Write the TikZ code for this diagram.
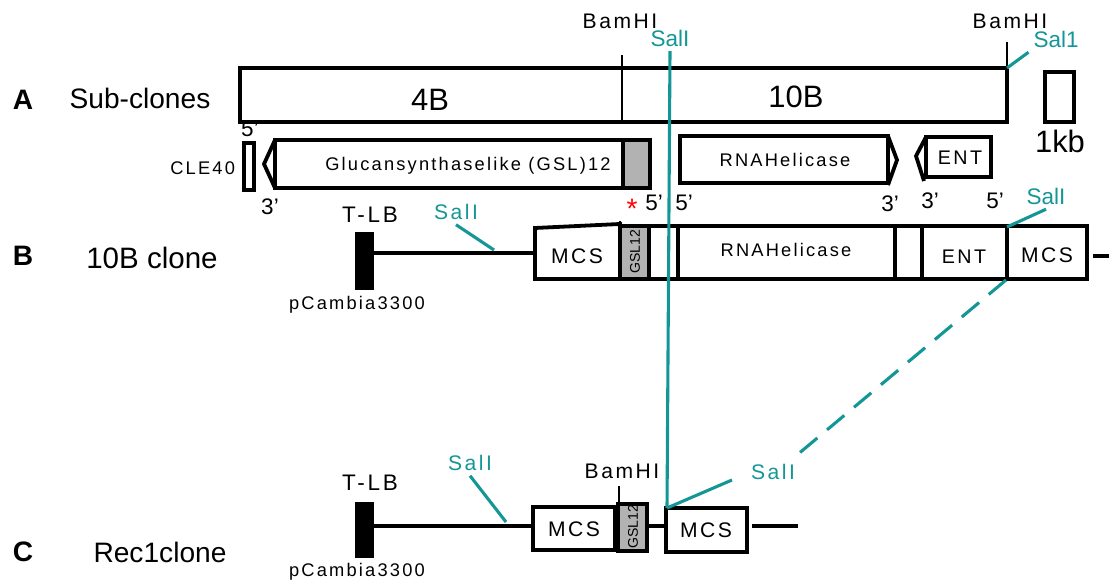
\documentclass[tikz,border=0pt]{standalone}
\usepackage{fontspec}
\setmainfont{Liberation Sans}
\newfontfamily\spcd[LetterSpace=12]{Liberation Sans}
\newcommand{\fsz}[1]{\fontsize{#1}{#1}\selectfont}
\definecolor{salteal}{RGB}{20, 150, 150}
\definecolor{gslgray}{RGB}{178, 178, 178}
\tikzset{
  seg/.style={draw, line width=2.7pt},
  cut/.style={line width=1pt},
  sal/.style={salteal, line width=2.2pt},
  sallbl/.style={salteal, font=\spcd\fsz{15}},
  lbl/.style={font=\spcd\fsz{13}},
  ends/.style={font=\fsz{16}},
}
\begin{document}
\begin{tikzpicture}[x=0.025cm, y=-0.025cm]
        \useasboundingbox (0,0) rectangle (1109,582);
        % row A: sub-clones
        \node[font=\fsz{20}\bfseries] (labA) at (23,100) {A};
        \node[font=\fsz{20}] (subcl) at (140,98) {Sub-clones};
        \draw[seg] (240,68) rectangle (1007,122);
        \draw[cut] (622,55) -- (622,122);
        \draw[cut] (1007,42) -- (1007,68);
        \node[font=\fsz{22}] (fourB) at (430,100) {4B};
        \node[font=\fsz{22}] (tenB) at (796,97) {10B};
        \node[font=\spcd\fsz{15}] (bamA) at (620,21) {BamHI};
        \node[font=\spcd\fsz{15}] (bamAr) at (1010,21) {BamHI};
        \node[salteal, font=\fsz{16}] (salA) at (670,38) {SalI};
        \node[salteal, font=\fsz{16}] (salAr) at (1056,39) {Sal1};
        \draw[sal] (1007,68) -- (salAr.south west);
        \draw[seg] (1045,72) rectangle (1074,122);
        \node[font=\fsz{22}] (kb) at (1060,141) {1kb};
        % genes
        \draw[seg] (244,143) rectangle (254,190);
        \node[lbl, anchor=east] (cle) at (240,168) {CLE40};
        \filldraw[seg, fill=gslgray] (623,140) rectangle (650,188);
        \draw[seg] (275,140) rectangle (623,188);
        \draw[seg] (275,140) -- (264,164) -- (275,188);
        \node[lbl] (gsl) at (468,166) {Glucansynthaselike (GSL)12};
        \draw[seg] (680,136) rectangle (888,183);
        \draw[seg] (888,136) -- (897,160) -- (888,185);
        \node[lbl] (rnaA) at (785,160) {RNAHelicase};
        \draw[seg] (926,137) rectangle (991,177);
        \draw[seg] (926,137) -- (916,156) -- (924,181);
        \node[font=\spcd\fsz{14}] (entA) at (960,158) {ENT};
        \node[ends] at (250,129) {5'};
        \node[ends] at (270,207) {3'};
        \node[red, font=\fsz{20}] at (632,209) {*};
        \node[ends] at (654,203) {5'};
        \node[ends] at (684,203) {5'};
        \node[ends] at (890,204) {3'};
        \node[ends] at (930,201) {3'};
        \node[ends] at (995,201) {5'};
        % row B: 10B clone
        \node[font=\fsz{20}\bfseries] (labB) at (23,256) {B};
        \node[font=\fsz{21}] (cloneB) at (152,258) {10B clone};
        \node[font=\spcd\fsz{16}] (tlbB) at (370,215) {T-LB};
        \fill (355,232) rectangle (374,290);
        \node[font=\spcd\fsz{13}] (pcB) at (357,305) {pCambia3300};
        \draw[line width=2.7pt] (374,253) -- (535,253);
        \node[sallbl] (salB) at (456,212) {SalI};
        \draw[sal] (salB.south) -- (494,250);
        \fill[gslgray] (620,226) rectangle (649,279);
        \draw[seg] (535,228) -- (620,224) -- (620,279) -- (535,279) -- cycle;
        \draw[seg] (620,226) rectangle (1087,279);
        \draw[cut] (620,221) -- (620,226);
        \foreach \xdiv in {649,678,895,922,1007}
          \draw[line width=2.7pt] (\xdiv,226) -- (\xdiv,279);
        \node[font=\spcd\fsz{15}] (mcsB) at (577,256) {MCS};
        \node[font=\fsz{10}, rotate=90] (gslB) at (635,252) {GSL12};
        \node[lbl] (rnaB) at (786,250) {RNAHelicase};
        \node[font=\spcd\fsz{14}] (entB) at (964,257) {ENT};
        \node[font=\spcd\fsz{15}] (mcsBr) at (1047,255) {MCS};
        \draw[line width=3.5pt] (1093,256) -- (1109,256);
        \node[salteal, font=\fsz{16}] (salBr) at (1046,196) {SalI};
        \draw[sal] (1007,227) -- (salBr.south);
        % row C: Rec1clone
        \node[font=\fsz{20}\bfseries] (labC) at (23,552) {C};
        \node[font=\fsz{20}] (cloneC) at (160,552) {Rec1clone};
        \node[font=\spcd\fsz{16}] (tlbC) at (370,483) {T-LB};
        \fill (355,502) rectangle (374,558);
        \node[font=\spcd\fsz{13}] (pcC) at (357,572) {pCambia3300};
        \draw[line width=2.7pt] (374,526) -- (533,526);
        \node[sallbl] (salC) at (470,463) {SalI};
        \draw[sal] (salC.south) -- (506,522);
        \draw[seg] (533,507) rectangle (615,550);
        \filldraw[seg, fill=gslgray] (618,504) rectangle (647,551);
        \draw[line width=2.7pt] (647,526) -- (666,526);
        \draw[seg] (666,508) rectangle (747,552);
        \draw[line width=2.7pt] (752,526) -- (798,526);
        \node[font=\spcd\fsz{15}] (mcsC) at (574,529) {MCS};
        \node[font=\fsz{10}, rotate=90] (gslC) at (633,527) {GSL12};
        \node[font=\spcd\fsz{15}] (mcsCr) at (706,530) {MCS};
        \node[font=\spcd\fsz{15}] (bamC) at (622,471) {BamHI};
        \draw[cut] (619,486) -- (619,504);
        \node[sallbl] (salCr) at (773,472) {SalI};
        \coordinate (join) at (667,508);
        \coordinate (dashend) at (797,455);
        \coordinate (dashstart) at (1006,280);
        \draw[sal] (join) -- (732,480);
        % SalI sites carried over
        \draw[sal] (salA.south) -- (join);
        \draw[sal, dash pattern=on 16pt off 9pt] (dashstart) -- (dashend);
\end{tikzpicture}
\end{document}
